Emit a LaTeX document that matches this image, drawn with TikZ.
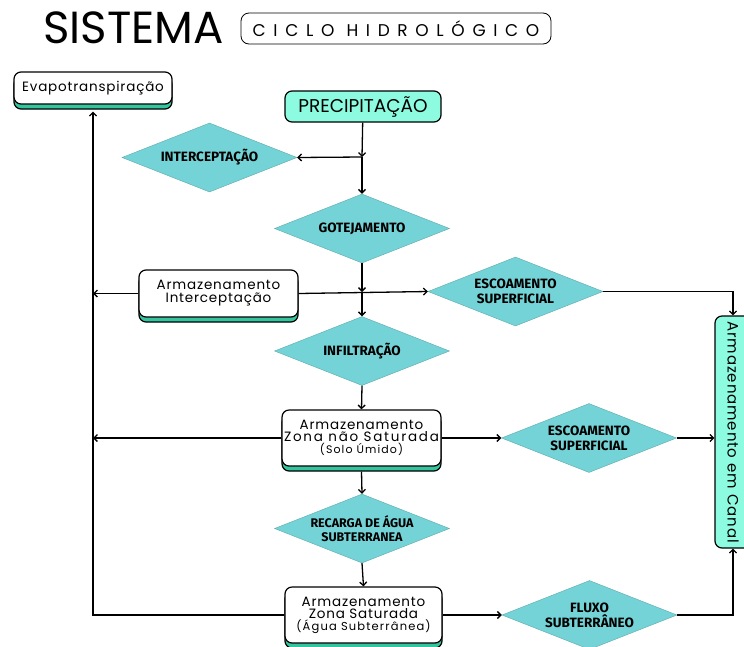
\documentclass[tikz,border=0pt]{standalone}
\usepackage{fontspec}
\setmainfont{Poppins}
\newfontfamily\dfont{Fira Sans}
\usetikzlibrary{shapes.geometric,shadows,arrows.meta}
\definecolor{diamc}{HTML}{74D3D6}
\definecolor{aquac}{HTML}{8CFBE0}
\definecolor{shadc}{HTML}{34C49E}
\tikzset{
  box/.style={draw, line width=1.2pt, rounded corners=7pt, fill=white, align=center,
    inner sep=2pt, font=\fontsize{13.5}{15}\selectfont\addfontfeatures{LetterSpace=6},
    drop shadow={shadow xshift=0pt, shadow yshift=-5pt, fill=shadc, opacity=1,
      draw=black, line width=1.2pt}},
  aquabox/.style={draw, line width=1.2pt, rounded corners=7pt, fill=aquac, align=center,
    inner sep=2pt},
  dia/.style={diamond, aspect=2.5, fill=diamc, draw=diamc!80!black, line width=0.4pt,
    inner sep=0pt, minimum width=175pt, minimum height=69pt, align=center,
    font=\dfont\bfseries\fontsize{13.5}{15}\selectfont},
  arr/.style={-{Straight Barb[length=3.5pt,width=7pt]}, line width=1.3pt}
}
\begin{document}
\begin{tikzpicture}[x=1pt, y=-1pt]
  \useasboundingbox (0,0) rectangle (744,646);
  % title
  \node[inner sep=0pt, font=\fontsize{45}{48}\selectfont] (title) at (133.5,28) {SISTEMA};
  \node[draw, line width=0.8pt, rounded corners=8pt, minimum width=310pt, minimum height=31pt,
    font=\fontsize{17}{19}\selectfont\addfontfeatures{LetterSpace=45}] (sub) at (396,28.5)
    {CICLO HIDROL\'OGICO};
  % boxes
  \node[box, minimum width=158pt, minimum height=32pt] (evap) at (93,88) {Evapotranspira\c{c}\~ao};
  \node[aquabox, minimum width=156pt, minimum height=31pt,
    font=\fontsize{18.5}{20}\selectfont] (prec) at (363,106.5) {PRECIPITA\c{C}\~AO};
  \node[box, minimum width=159pt, minimum height=47pt] (armI) at (218.5,293.5)
    {Armazenamento\\[-2pt]Intercepta\c{c}\~ao};
  \node[box, minimum width=157pt, minimum height=56pt] (armU) at (361.5,438)
    {Armazenamento\\[-3pt]{\addfontfeatures{LetterSpace=13}Zona n\~ao Saturada}\\[-3pt]
    {\fontsize{11}{12}\selectfont\addfontfeatures{LetterSpace=10}(Solo \'Umido)}};
  \node[box, minimum width=157pt, minimum height=56pt] (armS) at (363.5,615)
    {Armazenamento\\[-3pt]Zona Saturada\\[-3pt]
    {\fontsize{11.5}{12}\selectfont\addfontfeatures{LetterSpace=10}(\'Agua Subterr\^anea)}};
  \node[aquabox, rotate=-90, minimum width=232pt, minimum height=36pt,
    font=\fontsize{15}{17}\selectfont\addfontfeatures{LetterSpace=6}] (canal) at (733,432)
    {Armazenamento em Canal};
  % diamonds
  \node[dia] (inter) at (209.5,157.5) {INTERCEPTA\c{C}\~AO};
  \node[dia] (gote) at (362,228.5) {GOTEJAMENTO};
  \node[dia] (esc1) at (515.5,291.5) {ESCOAMENTO\\SUPERFICIAL};
  \node[dia] (infil) at (362,351) {INFILTRA\c{C}\~AO};
  \node[dia] (esc2) at (589,438) {ESCOAMENTO\\SUPERFICIAL};
  \node[dia, font=\dfont\bfseries\fontsize{12.5}{14}\selectfont] (rec) at (362,528.5)
    {RECARGA DE \'AGUA\\SUBTERRANEA};
  \node[dia] (fluxo) at (589.5,615) {FLUXO\\SUBTERR\^ANEO};
  % junctions
  \coordinate (j1) at (362,157);
  \coordinate (j2) at (362,292);
  \coordinate (evl) at (93,0);
  % connectors
  \draw[arr] (prec) -- (j1);
  \draw[arr] (j1) -- (inter.east);
  \draw[arr] (j1) -- (gote.north);
  \draw[arr] (gote.south) -- (j2);
  \draw[arr] (j2) -- (infil.north);
  \draw[arr] (armI.east) -- (esc1.west);
  \draw[arr] (armI.west) -- (armI.west -| evl);
  \draw[arr] (esc1.east) -| (canal.west);
  \draw[arr] (infil.south) -- (armU.north);
  \draw[arr] (armU.west) -- (armU.west -| evl);
  \draw[arr] (armU.east) -- (esc2.west);
  \draw[arr] (esc2.east) -- (esc2.east -| canal.south);
  \draw[arr] ([yshift=-5pt]armU.south) -- (rec.north);
  \draw[arr] (rec.south) -- (armS.north);
  \draw[arr] (armS.west) -| ([yshift=-7pt]evap.south);
  \draw[arr] (armS.east) -- (fluxo.west);
  \draw[arr] (fluxo.east) -| (canal.east);
\end{tikzpicture}
\end{document}
